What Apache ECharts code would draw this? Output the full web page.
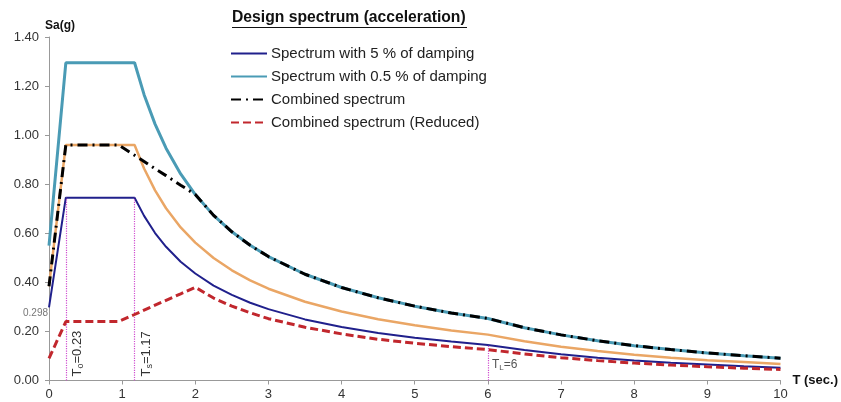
<!DOCTYPE html>
<html>
<head>
<meta charset="utf-8">
<script src="https://cdn.jsdelivr.net/npm/echarts@6/dist/echarts.min.js"></script>
<style>html,body{margin:0;padding:0;background:#fff}#c{width:841px;height:402px}</style>
</head>
<body>
<div id="c"></div>
<script>
// Period values (s)
const periods = [0, 0.23, 0.95, 1.17, 1.3, 1.45, 1.6, 1.8, 2.0, 2.25, 2.5, 2.75, 3.0, 3.5, 4.0, 4.5, 5.0, 5.5, 6.0, 6.5, 7.0, 7.5, 8.0, 8.5, 9.0, 9.5, 10.0];
// Spectrum with 5 % damping
const spec5 = [0.298, 0.745, 0.745, 0.745, 0.671, 0.601, 0.545, 0.484, 0.436, 0.387, 0.349, 0.317, 0.291, 0.249, 0.218, 0.194, 0.174, 0.159, 0.145, 0.124, 0.107, 0.093, 0.082, 0.072, 0.065, 0.058, 0.052];
// Spectrum with 0.5 % damping
const spec05 = [0.55, 1.295, 1.295, 1.295, 1.165, 1.045, 0.947, 0.842, 0.758, 0.673, 0.606, 0.551, 0.505, 0.433, 0.379, 0.337, 0.303, 0.275, 0.253, 0.215, 0.186, 0.162, 0.142, 0.126, 0.112, 0.101, 0.091];
// Intermediate (orange) spectrum
const specMid = [0.384, 0.96, 0.96, 0.96, 0.864, 0.775, 0.702, 0.624, 0.562, 0.499, 0.449, 0.408, 0.374, 0.321, 0.281, 0.250, 0.225, 0.204, 0.187, 0.160, 0.138, 0.120, 0.105, 0.093, 0.083, 0.075, 0.067];
// Combined spectrum
const combined = [0.384, 0.96, 0.96, 0.918, 0.893, 0.863, 0.835, 0.796, 0.758, 0.673, 0.606, 0.551, 0.505, 0.433, 0.379, 0.337, 0.303, 0.275, 0.253, 0.215, 0.186, 0.162, 0.142, 0.126, 0.112, 0.101, 0.091];
// Combined spectrum (reduced)
const reduced = [0.09, 0.24, 0.24, 0.269, 0.287, 0.307, 0.327, 0.353, 0.38, 0.336, 0.303, 0.276, 0.252, 0.217, 0.19, 0.168, 0.152, 0.138, 0.126, 0.108, 0.093, 0.081, 0.071, 0.063, 0.056, 0.05, 0.045];

const T0 = 0.23, TS = 1.17, TL = 6;
const SDS5 = 0.745, SA5_TL = 0.145;
const yTicks = [0, 0.2, 0.4, 0.6, 0.8, 1.0, 1.2, 1.4];
const xTicks = [0, 1, 2, 3, 4, 5, 6, 7, 8, 9, 10];

const names = ['Spectrum with 5 % of damping', 'Spectrum with 0.5 % of damping', 'Combined spectrum', 'Combined spectrum (Reduced)'];
const pairs = arr => periods.map((t, i) => [t, arr[i]]);
const FONT = "'Liberation Sans', Arial, sans-serif";

const chart = echarts.init(document.getElementById('c'), null, {renderer: 'canvas'});
const subRich = {
  a: {fontSize: 13, color: '#333', fontFamily: FONT},
  b: {fontSize: 9, color: '#333', fontFamily: FONT, verticalAlign: 'bottom', padding: [6, 0, 0, 0]}
};
chart.setOption({
  animation: false,
  backgroundColor: '#fff',
  textStyle: {fontFamily: FONT},
  grid: {left: 49, right: 59, top: 37, bottom: 21.5, containLabel: false},
  legend: {
    data: names,
    orient: 'vertical',
    left: 230, top: 46,
    itemWidth: 36, itemHeight: 14, itemGap: 8,
    padding: 0,
    itemStyle: {opacity: 0},
    textStyle: {fontSize: 15, color: '#222', fontFamily: FONT, padding: [0, 0, 0, -1]}
  },
  graphic: [
    {type: 'text', left: 232, top: 10, style: {text: 'Design spectrum (acceleration)', font: "bold 15.7px " + FONT, fill: '#111'}},
    {type: 'line', shape: {x1: 232, y1: 27.5, x2: 467, y2: 27.5}, style: {stroke: '#111', lineWidth: 1}}
  ],
  xAxis: {
    type: 'value', min: xTicks[0], max: xTicks[xTicks.length - 1], interval: 1,
    name: 'T (sec.)', nameLocation: 'end', nameGap: 12,
    nameTextStyle: {fontWeight: 'bold', fontSize: 13, color: '#111', padding: [0, 0, 6, 0]},
    axisLine: {lineStyle: {color: '#999', width: 1}},
    axisTick: {show: true, length: 4, lineStyle: {color: '#999'}},
    axisLabel: {fontSize: 13, color: '#333', margin: 7},
    splitLine: {show: false}
  },
  yAxis: {
    type: 'value', min: yTicks[0], max: yTicks[yTicks.length - 1], interval: 0.2,
    name: 'Sa(g)', nameLocation: 'end', nameGap: 5,
    nameTextStyle: {fontWeight: 'bold', fontSize: 12, color: '#111', align: 'left', padding: [0, 0, 0, -4]},
    axisLine: {show: true, lineStyle: {color: '#999', width: 1}},
    axisTick: {show: true, length: 4, lineStyle: {color: '#999'}},
    axisLabel: {fontSize: 13, color: '#333', margin: 10, formatter: v => v.toFixed(2)},
    splitLine: {show: false}
  },
  series: [
    {
      name: names[1], type: 'line', data: pairs(spec05), symbol: 'none', z: 2,
      lineStyle: {color: '#4a9bb5', width: 3}, itemStyle: {color: '#4a9bb5'}
    },
    {
      name: 'Intermediate', type: 'line', data: pairs(specMid), symbol: 'none', z: 3,
      lineStyle: {color: '#eaa665', width: 2.5}, itemStyle: {color: '#eaa665'}
    },
    {
      name: names[0], type: 'line', data: pairs(spec5), symbol: 'none', z: 4,
      lineStyle: {color: '#20208c', width: 2}, itemStyle: {color: '#20208c'},
      markLine: {
        silent: true, symbol: ['none', 'none'],
        lineStyle: {color: '#d04fd0', type: 'dotted', width: 1.2},
        label: {show: true, position: 'insideStartBottom', distance: 4, color: '#333'},
        data: [
          [{coord: [T0, 0], label: {formatter: '{a|T}{b|o}{a|=0.23}', rich: subRich}}, {coord: [T0, SDS5]}],
          [{coord: [TS, 0], label: {formatter: '{a|T}{b|s}{a|=1.17}', rich: subRich}}, {coord: [TS, SDS5]}],
          [{coord: [TL, 0], label: {show: false}}, {coord: [TL, SA5_TL]}]
        ]
      },
      markPoint: {
        silent: true, symbol: 'circle', symbolSize: 0,
        data: [
          {coord: [TL, 0.063], label: {show: true, position: 'right', distance: 4, formatter: '{a|T}{b|L}{a|=6}',
            rich: {a: {fontSize: 12, color: '#555', fontFamily: FONT}, b: {fontSize: 8, color: '#555', fontFamily: FONT, padding: [5, 0, 0, 0]}}}},
          {coord: [0, spec5[0]], label: {show: true, position: 'left', distance: 1, offset: [0, 6], formatter: '0.298', fontSize: 10, color: '#777'}}
        ]
      }
    },
    {
      name: names[2], type: 'line', data: pairs(combined), symbol: 'none', z: 5,
      lineStyle: {color: '#000', width: 3, type: [10, 5, 2, 5]}, itemStyle: {color: '#000'}
    },
    {
      name: names[3], type: 'line', data: pairs(reduced), symbol: 'none', z: 6,
      lineStyle: {color: '#c1272d', width: 3, type: [8, 4]}, itemStyle: {color: '#c1272d'}
    }
  ]
});
</script>
</body>
</html>
